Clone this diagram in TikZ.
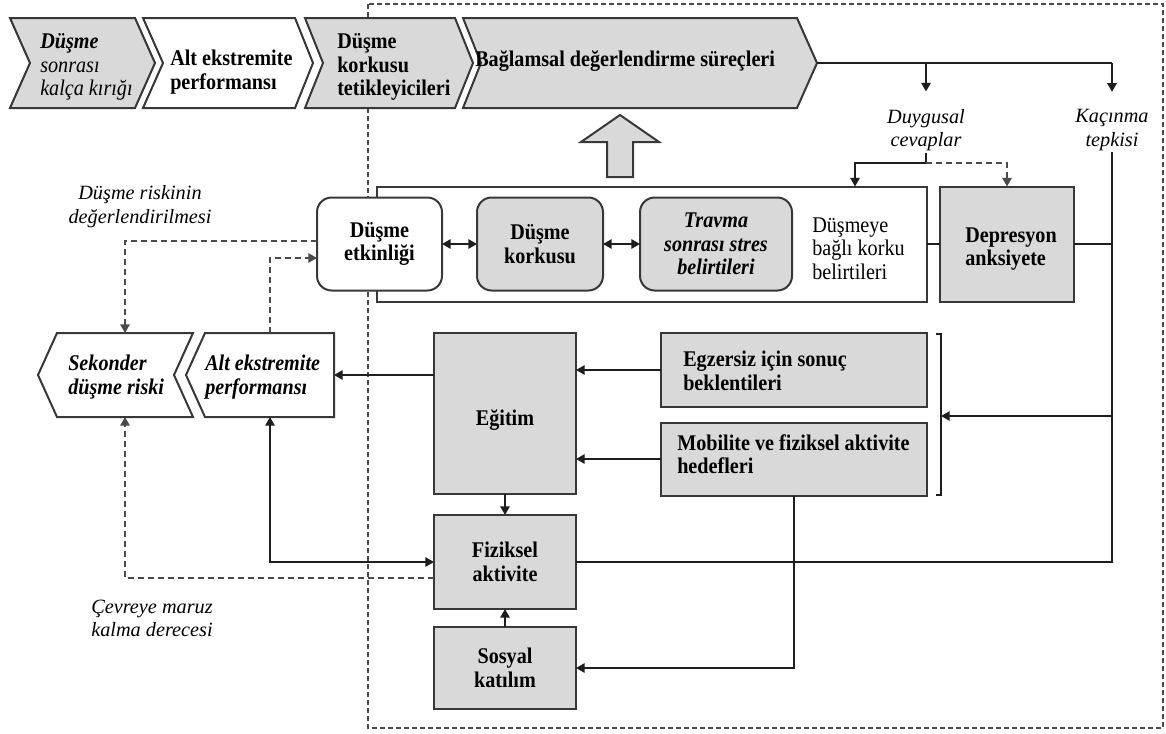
\documentclass[tikz,border=0pt]{standalone}
\usepackage{fontspec}
\setmainfont{Liberation Serif}[FakeStretch=0.9]
\newfontfamily\notefont{Liberation Serif}
\usetikzlibrary{arrows.meta}

\definecolor{boxgray}{HTML}{D9D9D9}
\definecolor{edgecol}{HTML}{383838}
\definecolor{wirecol}{HTML}{1E1E1E}
\definecolor{dashcol}{HTML}{4A4A4A}

\newcommand{\bodysize}{\fontsize{16.8}{17.6}\selectfont}
\newcommand{\notesize}{\fontsize{15.2}{17.6}\selectfont}

\begin{document}
\begin{tikzpicture}[x=0.75pt, y=-0.75pt,
  sz/.style 2 args={minimum width=#1*0.75pt, minimum height=#2*0.75pt},
  base/.style={draw=edgecol, line width=1.5pt, inner sep=0pt, outer sep=0pt,
    font=\bodysize\bfseries, align=center},
  gbox/.style={base, fill=boxgray},
  wbox/.style={base, fill=white},
  rgbox/.style={gbox, rounded corners=11pt},
  rwbox/.style={wbox, rounded corners=11pt},
  chevg/.style={draw=edgecol, line width=1.5pt, fill=boxgray, line join=miter},
  chevw/.style={chevg, fill=white},
  txt/.style={font=\bodysize, align=left, inner sep=0pt},
  btxt/.style={txt, font=\bodysize\bfseries},
  bitxt/.style={txt, font=\bodysize\bfseries\itshape},
  lbl/.style={font=\notefont\notesize\itshape, align=center, inner sep=1pt},
  wirestyle/.style={draw=wirecol, line width=1.4pt},
  arr/.style={wirestyle, -{Triangle[length=6.5pt,width=7pt]}},
  barr/.style={wirestyle, {Triangle[length=6.5pt,width=7pt]}-{Triangle[length=6.5pt,width=7pt]}},
  darr/.style={draw=dashcol, line width=1.4pt, dash pattern=on 4.5pt off 3pt,
    -{Triangle[length=6.5pt,width=7pt]}},
  frame/.style={draw=dashcol, line width=1.2pt, dash pattern=on 3.5pt off 2.5pt}
]
\useasboundingbox (0,0) rectangle (1166,733);
\fill[white] (0,0) rectangle (1166,733);

% dashed frame of the intervention area
\draw[frame] (368,4) rectangle (1163,728);

% top process chevrons
\draw[chevg] (10,18) -- (135,18) -- (155,63) -- (135,108) -- (10,108) -- (30,63) -- cycle;
\draw[chevw] (143,18) -- (295,18) -- (313,63) -- (295,108) -- (143,108) -- (163,63) -- cycle;
\draw[chevg] (305,18) -- (455,18) -- (473,63) -- (455,108) -- (305,108) -- (323,63) -- cycle;
\draw[chevg] (463,18) -- (797,18) -- (817,63) -- (797,108) -- (463,108) -- (481,63) -- cycle;
\coordinate (c4tip) at (817,63);

\node[txt, anchor=west] (t1) at (40,67) {\textbf{\textit{Düşme}}\\\textit{sonrası}\\\textit{kalça kırığı}};
\node[btxt, anchor=west] (t2) at (170,72) {Alt ekstremite\\performansı};
\node[btxt, anchor=west] (t3) at (337,67) {Düşme\\korkusu\\tetikleyicileri};
\node[btxt, anchor=west] (t4) at (475,61) {Bağlamsal değerlendirme süreçleri};

% block arrow up to the appraisal chevron
\draw[chevg] (607,177) -- (607,142) -- (581,142) -- (620,115) -- (659,142) -- (633,142) -- (633,177) -- cycle;

% fear-related symptoms group
\node[wbox, sz={550}{115}] (grp) at (652,244) {};
\node[rwbox, sz={125}{93}] (etk) at (379.5,244) {Düşme\\etkinliği};
\node[rgbox, sz={126}{93}] (kor) at (540,244) {Düşme\\korkusu};
\node[rgbox, sz={152}{93}, font=\bodysize\bfseries\itshape] (trv) at (716,244) {Travma\\sonrası stres\\belirtileri};
\node[txt, anchor=west] (dbk) at (812,248.5) {Düşmeye\\bağlı korku\\belirtileri};
\node[gbox, sz={134}{115}] (dep) at (1007,244) {};
\node[btxt, anchor=west] (dept) at (965,249) {Depresyon\\anksiyete};

\draw[barr] (etk.east) -- (kor.west);
\draw[barr] (kor.east) -- (trv.west);
\draw[wirestyle] (grp.east) -- (dep.west);

% responses
\node[lbl] (duy) at (926,130) {Duygusal\\cevaplar};
\node[lbl] (kac) at (1112,130) {Kaçınma\\tepkisi};
\draw[wirestyle] (c4tip) -- (c4tip -| kac.north);
\draw[arr] (c4tip -| duy.north) -- ([yshift=12pt]duy.north);
\draw[arr] (c4tip -| kac.north) -- ([yshift=12pt]kac.north);
\coordinate (split) at (926,163);
\draw[wirestyle] (duy.south) -- (split);
\draw[arr] (split) -| ([xshift=-54pt]grp.north east);
\draw[darr] (split) -| (dep.north);

% intervention blocks
\node[gbox, sz={142}{161}] (edu) at (505,413.5) {};
\node[btxt] (edut) at (505,420) {Eğitim};
\node[gbox, sz={266}{74}] (egz) at (794,370) {};
\node[btxt, anchor=west] (egzt) at (683,371) {Egzersiz için sonuç\\beklentileri};
\node[gbox, sz={266}{73}] (mob) at (794,459) {};
\node[btxt, anchor=west] (mobt) at (677,454) {Mobilite ve fiziksel aktivite\\hedefleri};
\node[gbox, sz={142}{94}] (fiz) at (505,562) {Fiziksel\\aktivite};
\node[gbox, sz={142}{82}] (sos) at (505,668) {Sosyal\\katılım};

\draw[wirestyle] (936,334) -- (941,334) -- (941,495) -- (936,495);
\coordinate (brk) at (941,416);

\draw[wirestyle] (dep.east) -- (dep.east -| kac.south);
\draw[wirestyle] (kac.south) -- (kac.south |- fiz.east) -- (fiz.east);
\draw[arr] (kac.south |- brk) -- (brk);
\draw[arr] (egz.west) -- (egz.west -| edu.east);
\draw[arr] (mob.west) -- (mob.west -| edu.east);
\draw[arr] (edu.south) -- (fiz.north);
\draw[arr] (sos.north) -- (fiz.south);
\draw[arr] (mob.south) |- (sos.east);

% outcome chevrons (pointing left)
\draw[chevw] (57,333) -- (193,333) -- (174,375) -- (193,417) -- (57,417) -- (38,375) -- cycle;
\draw[chevw] (205,333) -- (334,333) -- (334,417) -- (205,417) -- (186,375) -- cycle;
\node[sz={136}{84}, inner sep=0pt, outer sep=0pt] (sek) at (125,375) {};
\node[sz={128}{84}, inner sep=0pt, outer sep=0pt] (alt) at (270,375) {};
\node[bitxt, anchor=west] (sekt) at (68,377) {Sekonder\\düşme riski};
\node[bitxt, anchor=west] (altt) at (205,377) {Alt ekstremite\\performansı};

\draw[arr] (alt.east -| edu.west) -- (alt.east);
\draw[barr] (alt.south) |- (fiz.west);
\draw[darr] ([yshift=-12pt]fiz.west) -| (sek.south);
\draw[darr] ([yshift=2.25pt]etk.west) -| (sek.north);
\draw[darr] (alt.north) |- ([yshift=-10.5pt]etk.west);

% side annotations
\node[lbl] (risk) at (140,206.5) {Düşme riskinin\\değerlendirilmesi};
\node[lbl] (env) at (152,618.5) {Çevreye maruz\\kalma derecesi};
\end{tikzpicture}
\end{document}
